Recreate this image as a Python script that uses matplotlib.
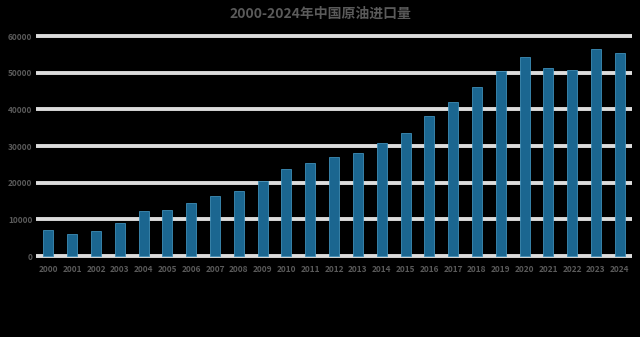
import matplotlib.pyplot as plt

plt.rcParams['font.family'] = ['Noto Sans CJK SC', 'DejaVu Sans']

# 中国原油进口量 (万吨)
years = ['2000', '2001', '2002', '2003', '2004', '2005', '2006', '2007', '2008',
         '2009', '2010', '2011', '2012', '2013', '2014', '2015', '2016', '2017',
         '2018', '2019', '2020', '2021', '2022', '2023', '2024']
imports = [7027, 6026, 6941, 9112, 12272, 12682, 14518, 16317, 17888, 20365,
           23768, 25378, 27103, 28174, 30837, 33550, 38101, 41957, 46190, 50572,
           54239, 51298, 50828, 56399, 55342]
yticks = [0, 10000, 20000, 30000, 40000, 50000, 60000]

fig = plt.figure(figsize=(6.4, 3.37), dpi=100, facecolor='black')
ax = fig.add_axes([0.057, 0.227, 0.93, 0.682], facecolor='black')

# grid lines under the bars
for t in yticks:
    ax.axhline(t, color='#dcdcdc', lw=2.8, zorder=1)

ax.bar(range(len(years)), imports, width=0.42, color='#1b6690',
       edgecolor='#3f8fb8', linewidth=0.6, zorder=2)

ax.set_xlim(-0.5, len(years) - 0.5)
ax.set_ylim(-1200, 61500)
ax.set_yticks(yticks)
ax.set_yticklabels([str(t) for t in yticks])
ax.set_xticks(range(len(years)))
ax.set_xticklabels(years)
ax.tick_params(axis='both', colors='#5a5a5a', labelsize=6, length=0, pad=3)
for lab in ax.get_xticklabels() + ax.get_yticklabels():
    lab.set_fontweight('bold')
for s in ax.spines.values():
    s.set_visible(False)

fig.suptitle('2000-2024年中国原油进口量', y=0.958, va='center', color='#5a5a5a',
             fontsize=10, fontweight='bold')

fig.savefig('out.png', dpi=100, facecolor='black')
